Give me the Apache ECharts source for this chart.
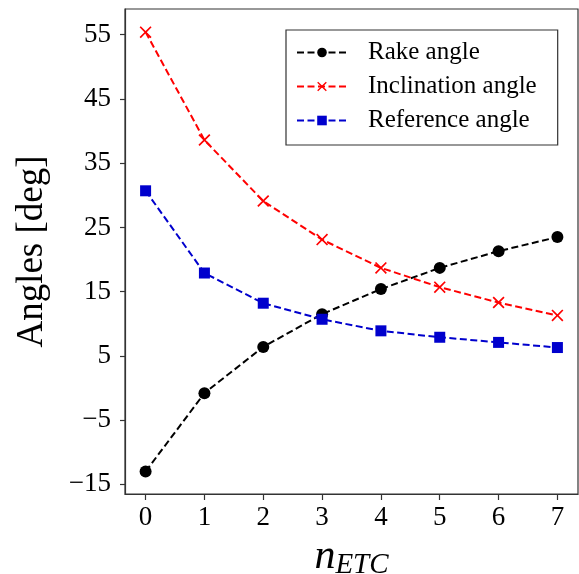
<!DOCTYPE html>
<html>
<head>
<meta charset="utf-8">
<script src="https://cdn.jsdelivr.net/npm/echarts@6/dist/echarts.min.js"></script>
<style>
  html, body { margin: 0; padding: 0; background: #fff; }
  #chart { width: 579px; height: 574px; }
</style>
</head>
<body>
<div id="chart"></div>
<script>
// values
const nEtc = [0, 1, 2, 3, 4, 5, 6, 7];
const rakeAngle = [-13.0, -0.8, 6.4, 11.5, 15.4, 18.7, 21.3, 23.5];
const inclinationAngle = [55.4, 38.6, 29.1, 23.1, 18.7, 15.7, 13.3, 11.3];
const referenceAngle = [30.7, 17.9, 13.2, 10.7, 8.9, 7.9, 7.1, 6.3];
const yTicks = [-15, -5, 5, 15, 25, 35, 45, 55];
const xTicks = [0, 1, 2, 3, 4, 5, 6, 7];

const serif = '"Liberation Serif", "DejaVu Serif", serif';
const crossPath = 'path://M0,1 L1,0 L5,4 L9,0 L10,1 L6,5 L10,9 L9,10 L5,6 L1,10 L0,9 L4,5 Z';

const pairs = (ys) => nEtc.map((x, i) => [x, ys[i]]);

const chart = echarts.init(document.getElementById('chart'));

const lineSeries = (name, data, color, symbol, size) => ({
  name: name,
  type: 'line',
  data: pairs(data),
  symbol: symbol,
  symbolSize: size,
  showAllSymbol: true,
  lineStyle: { color: color, width: 2, type: [7, 3.5] },
  itemStyle: { color: color, borderWidth: 0 },
  z: 3
});

chart.setOption({
  animation: false,
  grid: {
    left: 125,
    top: 9,
    right: 1,
    bottom: 80,
    outerBoundsMode: 'none',
    containLabel: false,
    show: true,
    borderColor: '#333',
    borderWidth: 1.2
  },
  legend: {
    orient: 'vertical',
    left: 286,
    top: 30,
    padding: [10, 21, 12, 10],
    itemWidth: 50,
    itemHeight: 12,
    itemGap: 9,
    borderColor: '#333',
    borderWidth: 1.2,
    borderRadius: 0,
    lineStyle: { width: 2 },
    textStyle: {
      fontFamily: serif,
      fontSize: 25,
      color: '#000',
      padding: [0, 0, 0, 16]
    },
    data: ['Rake angle', 'Inclination angle', 'Reference angle']
  },
  xAxis: {
    type: 'value',
    min: -0.35,
    max: 7.35,
    splitLine: { show: false },
    axisLine: { onZero: false, lineStyle: { color: '#333', width: 1.2 } },
    axisTick: { customValues: xTicks, length: 6, lineStyle: { color: '#333', width: 1.2 } },
    axisLabel: {
      customValues: xTicks,
      margin: 10,
      fontFamily: serif,
      fontSize: 27,
      color: '#000'
    },
    name: '{n|n}{s|ETC}',
    nameLocation: 'middle',
    nameGap: 29,
    nameTextStyle: {
      rich: {
        n: { fontFamily: serif, fontStyle: 'italic', fontSize: 42, color: '#000' },
        s: { fontFamily: serif, fontStyle: 'italic', fontSize: 29, color: '#000', padding: [16, 0, 0, 0] }
      }
    }
  },
  yAxis: {
    type: 'value',
    min: -16.5,
    max: 59,
    splitLine: { show: false },
    axisLine: { onZero: false, lineStyle: { color: '#333', width: 1.2 } },
    axisTick: { customValues: yTicks, length: 5, lineStyle: { color: '#333', width: 1.2 } },
    axisLabel: {
      customValues: yTicks,
      margin: 14,
      fontFamily: serif,
      fontSize: 27,
      color: '#000',
      formatter: (v) => String(v).replace('-', '\u2212')
    },
    name: 'Angles [deg]',
    nameLocation: 'middle',
    nameRotate: 90,
    nameGap: 74,
    nameTextStyle: { fontFamily: serif, fontSize: 37, color: '#000' }
  },
  series: [
    lineSeries('Rake angle', rakeAngle, '#000000', 'circle', 12),
    lineSeries('Inclination angle', inclinationAngle, '#ff0000', crossPath, 12),
    lineSeries('Reference angle', referenceAngle, '#0000cd', 'rect', 11)
  ]
});
</script>
</body>
</html>
